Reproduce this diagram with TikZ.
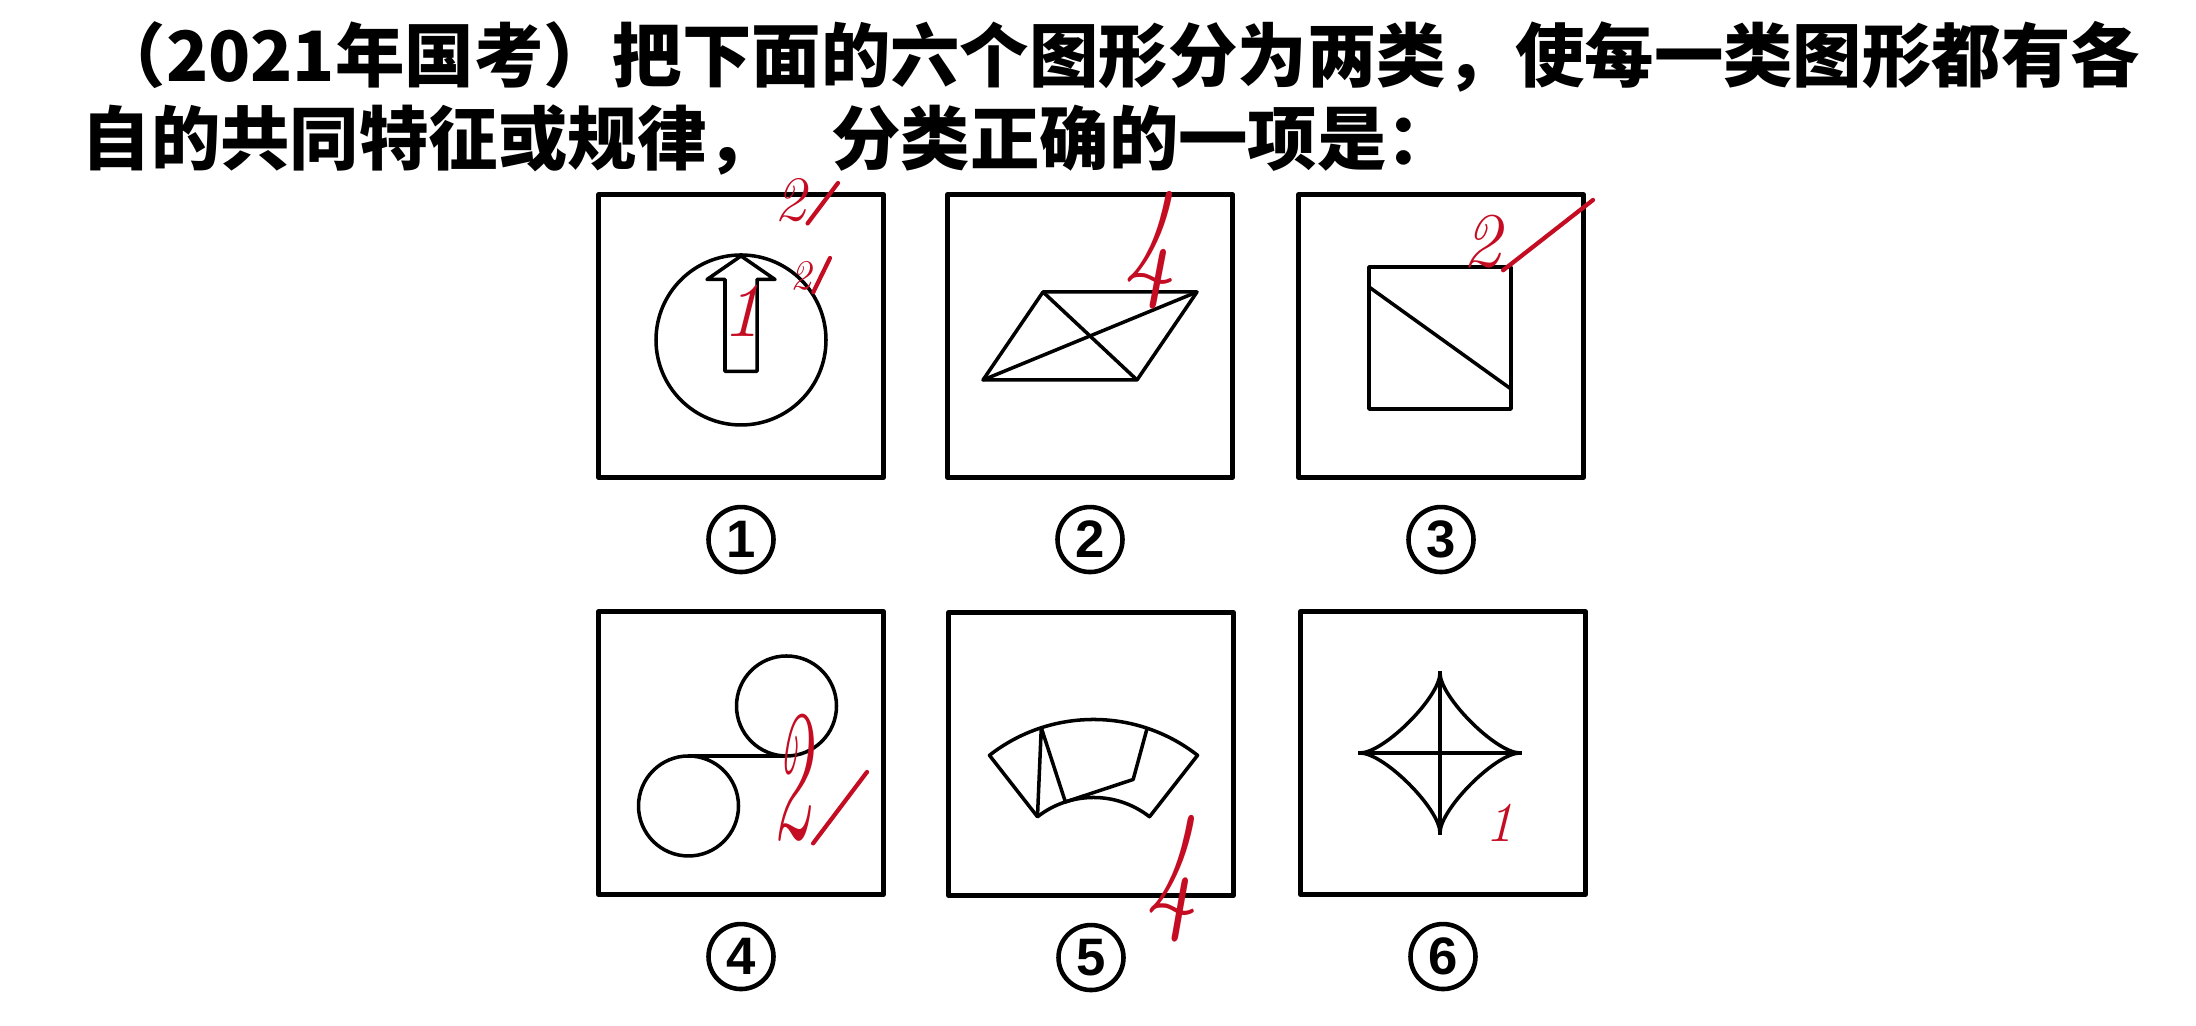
\documentclass[tikz,border=0pt]{standalone}
\usepackage{fontspec}
\newfontfamily\cjk{Noto Sans CJK SC}
\newfontfamily\numfont{Liberation Sans}
\usetikzlibrary{positioning}
\definecolor{pen}{RGB}{196,12,34}

\begin{document}
\begin{tikzpicture}[line width=1pt, line join=round,
  panel/.style={draw, line width=1.3pt, minimum width=2.85cm, minimum height=2.83cm, inner sep=0},
  num/.style={draw, circle, line width=1.3pt, minimum size=0.65cm, inner sep=0,
    font=\numfont\bfseries\fontsize{15}{15}\selectfont},
  title/.style={anchor=west, inner sep=0, font=\cjk\bfseries\fontsize{19.75}{24}\selectfont},
  hand/.style={pen, inner sep=0},
  tick/.style={pen, line width=1.2pt, line cap=round}]
  \useasboundingbox (0,0) rectangle (21.96,10.26);
  % 题干
  \node[title] (q1) at (0.95,9.69) {（2021年国考）把下面的六个图形分为两类，使每一类图形都有各};
  \node[title] (q2) at (0.80,8.86) {自的共同特征或规律，\hspace{0.8em}分类正确的一项是：};
  % 六个方框和编号
  \node[panel] (p1) at (7.41,6.90) {};
  \node[panel] (p2) at (10.90,6.90) {};
  \node[panel] (p3) at (14.41,6.90) {};
  \node[panel] (p4) at (7.41,2.73) {};
  \node[panel] (p5) at (10.91,2.72) {};
  \node[panel] (p6) at (14.43,2.73) {};
  \foreach \i in {1,...,6}
    \node[num, below=0.25cm of p\i] (n\i) {\i};
  % 图1: 圆 + 箭头
  \begin{scope}[shift={(p1.center)}]
    \draw (0,-0.04) circle (0.85);
    \draw (-0.16,-0.355) -- (-0.16,0.565) -- (-0.34,0.565) -- (0,0.80)
      -- (0.34,0.565) -- (0.16,0.565) -- (0.16,-0.355) -- cycle;
  \end{scope}
  % 图2: 平行四边形 + 两条对角线
  \begin{scope}[shift={(p2.center)}]
    \draw (-0.47,0.44) -- (1.07,0.44) -- (0.47,-0.44) -- (-1.07,-0.44) -- cycle;
    \draw (-0.47,0.44) -- (0.47,-0.44);
    \draw (-1.07,-0.44) -- (1.07,0.44);
  \end{scope}
  % 图3: 正方形 + 一条斜线
  \begin{scope}[shift={(p3.center)}]
    \draw (-0.72,-0.73) rectangle (0.70,0.69);
    \draw (-0.72,0.49) -- (0.70,-0.53);
  \end{scope}
  % 图4: 两圆 + 公切线
  \begin{scope}[shift={(p4.center)}]
    \draw (0.455,0.47) circle (0.5);
    \draw (-0.525,-0.53) circle (0.5);
    \draw (-0.525,-0.03) -- (0.455,-0.03);
  \end{scope}
  % 图5: 扇环分成三块
  \begin{scope}[shift={(p5.center)}, shift={(0.025,-1.345)}]
    \draw (52:0.91) -- (52:1.69) arc[start angle=52, end angle=128, radius=1.69]
      -- (128:0.91) arc[start angle=128, end angle=52, radius=0.91] -- cycle;
    \draw (128:0.91) -- (108:1.69) -- (108:0.91) -- (70:1.16) -- (71.5:1.69);
  \end{scope}
  % 图6: 四角星
  \begin{scope}[shift={(p6.center)}, shift={(-0.03,0)}]
    \draw (-0.82,0) -- (0.82,0);
    \draw (0,-0.82) -- (0,0.82);
    \draw (0,0.8) .. controls (0,0.56) and (0.56,0) .. (0.8,0)
      .. controls (0.56,0) and (0,-0.56) .. (0,-0.8)
      .. controls (0,-0.56) and (-0.56,0) .. (-0.8,0)
      .. controls (-0.56,0) and (0,0.56) .. cycle;
  \end{scope}
  % 红笔批注
  \node[hand, font=\itshape\fontsize{18}{18}\selectfont] (h1) at (7.90,8.26) {2};
  \draw[tick] (h1.south east) -- (8.38,8.43);
  \node[hand, font=\itshape\fontsize{12}{12}\selectfont] (h2) at (8.01,7.50) {2};
  \draw[tick] (h2.south east) -- (8.30,7.68);
  \node[hand, font=\itshape\fontsize{22}{22}\selectfont] (h3) at (7.42,7.15) {1};
  \node[hand, font=\itshape\fontsize{30}{30}\selectfont] (h4) at (11.50,7.76) {\scalebox{1}[1.3]{4}};
  \node[hand, font=\itshape\fontsize{22}{22}\selectfont] (h5) at (14.82,7.84) {2};
  \draw[tick] (h5.south east) -- (15.93,8.26);
  \node[hand, font=\itshape\fontsize{22}{22}\selectfont] (h6) at (7.92,2.48) {\scalebox{1}[2.4]{2}};
  \draw[tick] (h6.south east) -- (8.67,2.54);
  \node[hand, font=\itshape\fontsize{30}{30}\selectfont] (h7) at (11.72,1.47) {\scalebox{1}[1.4]{4}};
  \node[hand, font=\itshape\fontsize{16}{16}\selectfont] (h8) at (15.00,2.03) {1};
\end{tikzpicture}
\end{document}
